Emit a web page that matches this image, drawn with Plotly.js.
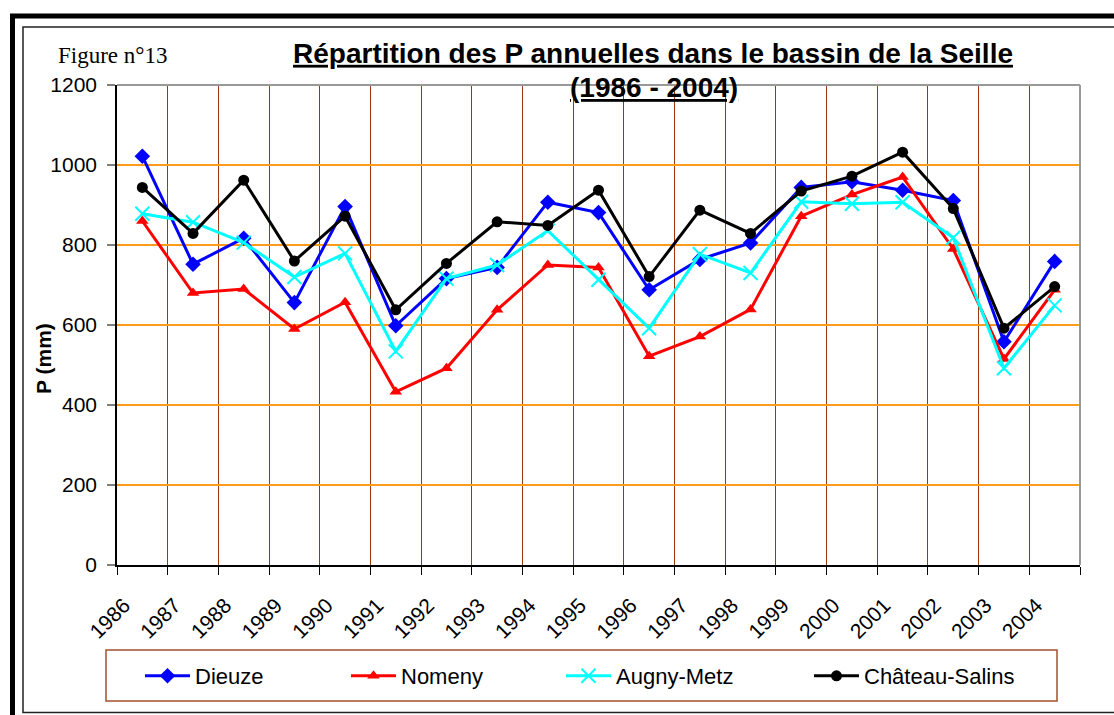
<!DOCTYPE html>
<html>
<head>
<meta charset="utf-8">
<script src="https://cdn.plot.ly/plotly-3.0.1.min.js"></script>
<style>
html,body{margin:0;padding:0;background:#fff;}
#chart{width:1114px;height:715px;}
</style>
</head>
<body>
<div id="chart"></div>
<script>
// ---- data ----
const years = ["1986","1987","1988","1989","1990","1991","1992","1993","1994","1995","1996","1997","1998","1999","2000","2001","2002","2003","2004"];
const dieuze        = [1022, 752, 817, 656, 896, 598, 716, 744, 907, 881, 688, 764, 805, 944, 958, 937, 911, 558, 759];
const nomeny        = [ 860, 680, 690, 590, 657, 433, 492, 638, 750, 744, 522, 571, 639, 872, 926, 970, 790, 515, 688];
const augnyMetz     = [ 878, 857, 806, 720, 779, 534, 716, 750, 836, 713, 592, 777, 730, 908, 903, 907, 818, 492, 649];
const chateauSalins = [ 944, 829, 962, 760, 872, 638, 754, 858, 849, 937, 721, 887, 829, 935, 972, 1032, 891, 592, 696];
const seriesNames = ["Dieuze", "Nomeny", "Augny-Metz", "Château-Salins"];
const yTicks = [0, 200, 400, 600, 800, 1000, 1200];

// ---- geometry helpers (plot area in px) ----
const W = 1114, H = 715;
const M = {l: 117, r: 34, t: 85, b: 150};
const PW = W - M.l - M.r, PH = H - M.t - M.b;
const px = x => (x - M.l) / PW;
const py = y => (H - M.b - y) / PH;

const FONT = "Arial, 'Liberation Sans', sans-serif";
const xs = years.map((_, i) => i + 0.5);      // points centred in each year cell
const boundaries = years.map((_, i) => i).concat([years.length]);

function mk(name, y, color, symbol, size, legendId, extraMarker) {
  return {
    type: "scatter", mode: "lines+markers", name: name,
    x: xs, y: y,
    line: {color: color, width: 3},
    marker: Object.assign({color: color, symbol: symbol, size: size}, extraMarker || {}),
    legend: legendId,
    hoverinfo: "x+y+name"
  };
}

const traces = [
  mk(seriesNames[0], dieuze, "#0000FF", "diamond", 12, "legend"),
  mk(seriesNames[1], nomeny, "#FF0000", "triangle-up", 11, "legend2"),
  mk(seriesNames[2], augnyMetz, "#00FFFF", "x-thin", 14, "legend3", {line: {color: "#00FFFF", width: 2}}),
  mk(seriesNames[3], chateauSalins, "#000000", "circle", 11, "legend4")
];

const legY = py(676);
function leg(xpx) {
  return {
    x: px(xpx), y: legY, xanchor: "left", yanchor: "middle",
    orientation: "h", bgcolor: "rgba(0,0,0,0)", borderwidth: 0,
    font: {family: FONT, size: 22, color: "#000"},
    itemwidth: 45, itemclick: false, itemdoubleclick: false
  };
}

const layout = {
  width: W, height: H,
  margin: M,
  paper_bgcolor: "#fff", plot_bgcolor: "#fff",
  font: {family: FONT, color: "#000"},
  title: {
    text: "Répartition des P annuelles dans le bassin de la Seille ",
    font: {family: FONT, size: 28, color: "#000", weight: "bold", lineposition: "under"},
    x: px(653), xanchor: "center", xref: "paper",
    y: 1 - 53 / H, yanchor: "middle", yref: "container"
  },
  xaxis: {
    range: [0, years.length],
    tickmode: "array",
    tickvals: boundaries,
    ticktext: years.concat([""]),
    tickangle: -45,
    tickfont: {family: FONT, size: 21, color: "#000"},
    ticks: "outside", ticklen: 8, tickwidth: 1, tickcolor: "#000",
    ticklabelstandoff: 10, ticklabelshift: 7,
    showgrid: true, gridcolor: "#9A3A0A", gridwidth: 1.4,
    showline: true, linecolor: "#000", linewidth: 1.5,
    zeroline: false, fixedrange: true
  },
  yaxis: {
    range: [0, 1200],
    tickmode: "array", tickvals: yTicks,
    tickfont: {family: FONT, size: 21, color: "#000"},
    ticks: "outside", ticklen: 8, tickwidth: 1.5, tickcolor: "#808080",
    ticklabelstandoff: 6,
    showgrid: true, gridcolor: "#FF9A1A", gridwidth: 1.5,
    showline: true, linecolor: "#000", linewidth: 1.5,
    zeroline: false, fixedrange: true
  },
  showlegend: true,
  legend: leg(140),
  legend2: leg(346),
  legend3: leg(561),
  legend4: leg(809),
  annotations: [
    {text: "(1986 - 2004)", xref: "paper", yref: "paper", x: px(654), y: py(87),
     xanchor: "center", yanchor: "middle", showarrow: false,
     font: {family: FONT, size: 28, color: "#000", weight: "bold", lineposition: "under"}},
    {text: "Figure n°13", xref: "paper", yref: "paper", x: px(56), y: py(55),
     xanchor: "left", yanchor: "middle", showarrow: false,
     font: {family: "'Liberation Serif', 'Times New Roman', serif", size: 23, color: "#000"}},
    {text: "<b>P (mm)</b>", xref: "paper", yref: "paper", x: px(43), y: py(359),
     xanchor: "center", yanchor: "middle", textangle: -90, showarrow: false,
     font: {family: FONT, size: 21, color: "#000"}}
  ],
  shapes: [
    // outer thick frame
    {type: "rect", xref: "paper", yref: "paper", x0: px(12.5), x1: px(1130), y0: py(16), y1: py(730),
     line: {color: "#000", width: 5}, fillcolor: "rgba(0,0,0,0)", layer: "below"},
    // inner thin frame
    {type: "rect", xref: "paper", yref: "paper", x0: px(23), x1: px(1130), y0: py(27), y1: py(712.5),
     line: {color: "#222", width: 1.5}, fillcolor: "rgba(0,0,0,0)", layer: "below"},
    // plot area top and right borders (grey)
    {type: "line", xref: "paper", yref: "paper", x0: 0, x1: 1, y0: 1, y1: 1,
     line: {color: "#999", width: 2}, layer: "above"},
    {type: "line", xref: "paper", yref: "paper", x0: 1, x1: 1, y0: 0, y1: 1,
     line: {color: "#999", width: 2}, layer: "above"},
    // legend box
    {type: "rect", xref: "paper", yref: "paper", x0: px(106), x1: px(1057), y0: py(650), y1: py(701),
     line: {color: "#A5502A", width: 1.5}, fillcolor: "rgba(0,0,0,0)", layer: "below"}
  ]
};

Plotly.newPlot("chart", traces, layout, {displayModeBar: false, responsive: false});
</script>
</body>
</html>
